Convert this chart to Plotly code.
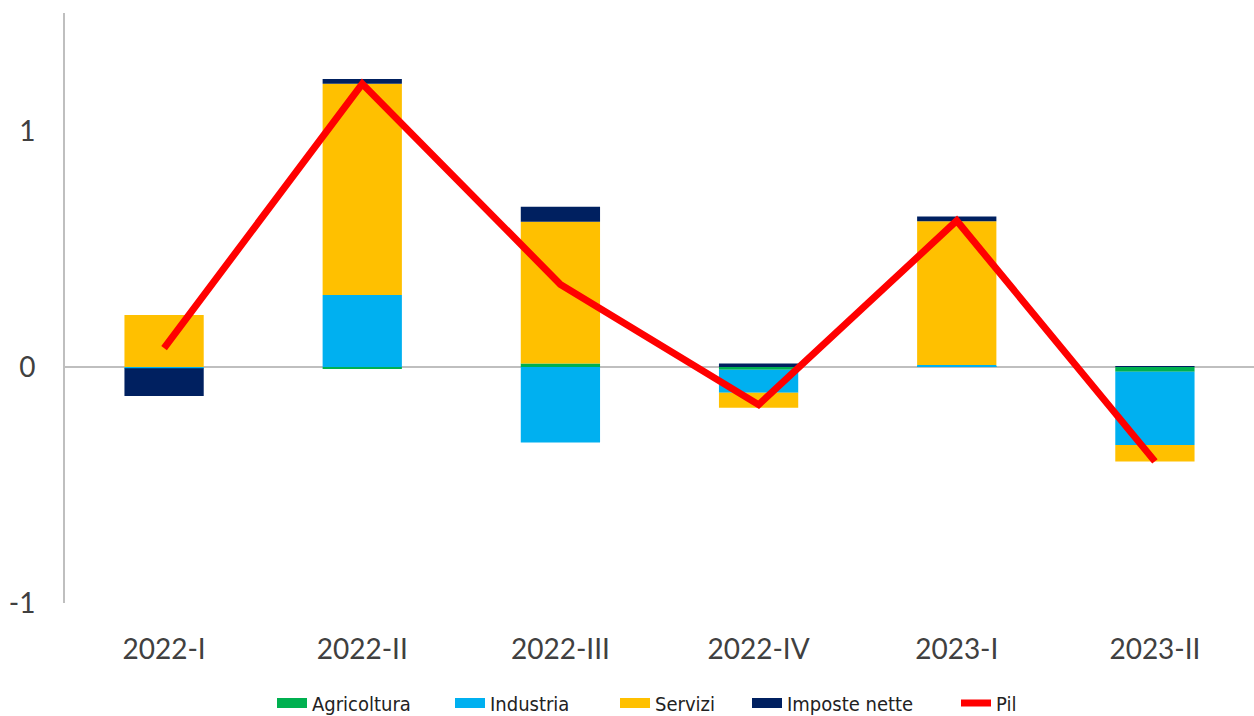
import plotly.graph_objects as go

categories = ["2022-I", "2022-II", "2022-III", "2022-IV", "2023-I", "2023-II"]
agricoltura = [0.0, -0.008, 0.015, -0.012, 0.003, -0.02]
industria = [-0.005, 0.305, -0.32, -0.097, 0.005, -0.31]
servizi = [0.22, 0.895, 0.60, -0.064, 0.61, -0.07]
imposte_nette = [-0.118, 0.02, 0.064, 0.015, 0.02, 0.004]
pil = [0.08, 1.20, 0.35, -0.16, 0.62, -0.40]

W, H = 1254, 716
fig = go.Figure()
bar_specs = [
    ("Agricoltura", agricoltura, "#00B050"),
    ("Industria", industria, "#00B0F0"),
    ("Servizi", servizi, "#FFC000"),
    ("Imposte nette", imposte_nette, "#002060"),
]
for name, vals, col in bar_specs:
    fig.add_trace(go.Bar(x=categories, y=vals, name=name, marker_color=col,
                         marker_line_width=0, width=0.4, showlegend=False,
                         legendgroup=name))
fig.add_trace(go.Scatter(x=categories, y=pil, name="Pil", mode="lines",
                         line=dict(color="#FF0000", width=7), showlegend=False,
                         legendgroup="Pil"))

# legend entries, each in its own legend box to mimic the original spacing
legend_names = ["legend", "legend2", "legend3", "legend4", "legend5"]
legend_left_px = [272, 450, 615, 747, 956]
for i, (name, vals, col) in enumerate(bar_specs):
    fig.add_trace(go.Scatter(x=[None], y=[None], name=name, mode="lines",
                             line=dict(color=col, width=11), legendgroup=name,
                             legend=legend_names[i]))
fig.add_trace(go.Scatter(x=[None], y=[None], name="Pil", mode="lines",
                         line=dict(color="#FF0000", width=7), legendgroup="Pil",
                         legend=legend_names[4]))

legend_font = dict(family="DejaVu Sans Condensed, Liberation Sans Narrow, sans-serif",
                   size=20, color="#222")
legend_layout = {}
for ln, px in zip(legend_names, legend_left_px):
    legend_layout[ln] = dict(orientation="h", xref="container", yref="container",
                             x=px / W, xanchor="left", y=1 - 703 / H, yanchor="middle",
                             font=legend_font, itemclick=False, bgcolor="rgba(0,0,0,0)")

fig.update_layout(
    width=W, height=H,
    barmode="relative",
    margin=dict(l=65, r=0, t=13, b=113, autoexpand=False),
    plot_bgcolor="white", paper_bgcolor="white",
    font=dict(family="Lato, Open Sans, sans-serif", color="#404040"),
    xaxis=dict(range=[-0.5, 5.5], showgrid=False, showline=False, ticks="",
               tickfont=dict(size=28, color="#404040"), ticklabelstandoff=27,
               automargin=False),
    yaxis=dict(range=[-1, 1.5], tickvals=[-1, 0, 1], ticktext=["-1", "0", "1"],
               showgrid=False, showline=True, linecolor="#BFBFBF", linewidth=2,
               zeroline=True, zerolinecolor="#BFBFBF", zerolinewidth=2,
               ticks="", tickfont=dict(size=28, color="#404040"), ticklabelstandoff=22,
               automargin=False),
    **legend_layout,
)

fig.write_html("out.html")
